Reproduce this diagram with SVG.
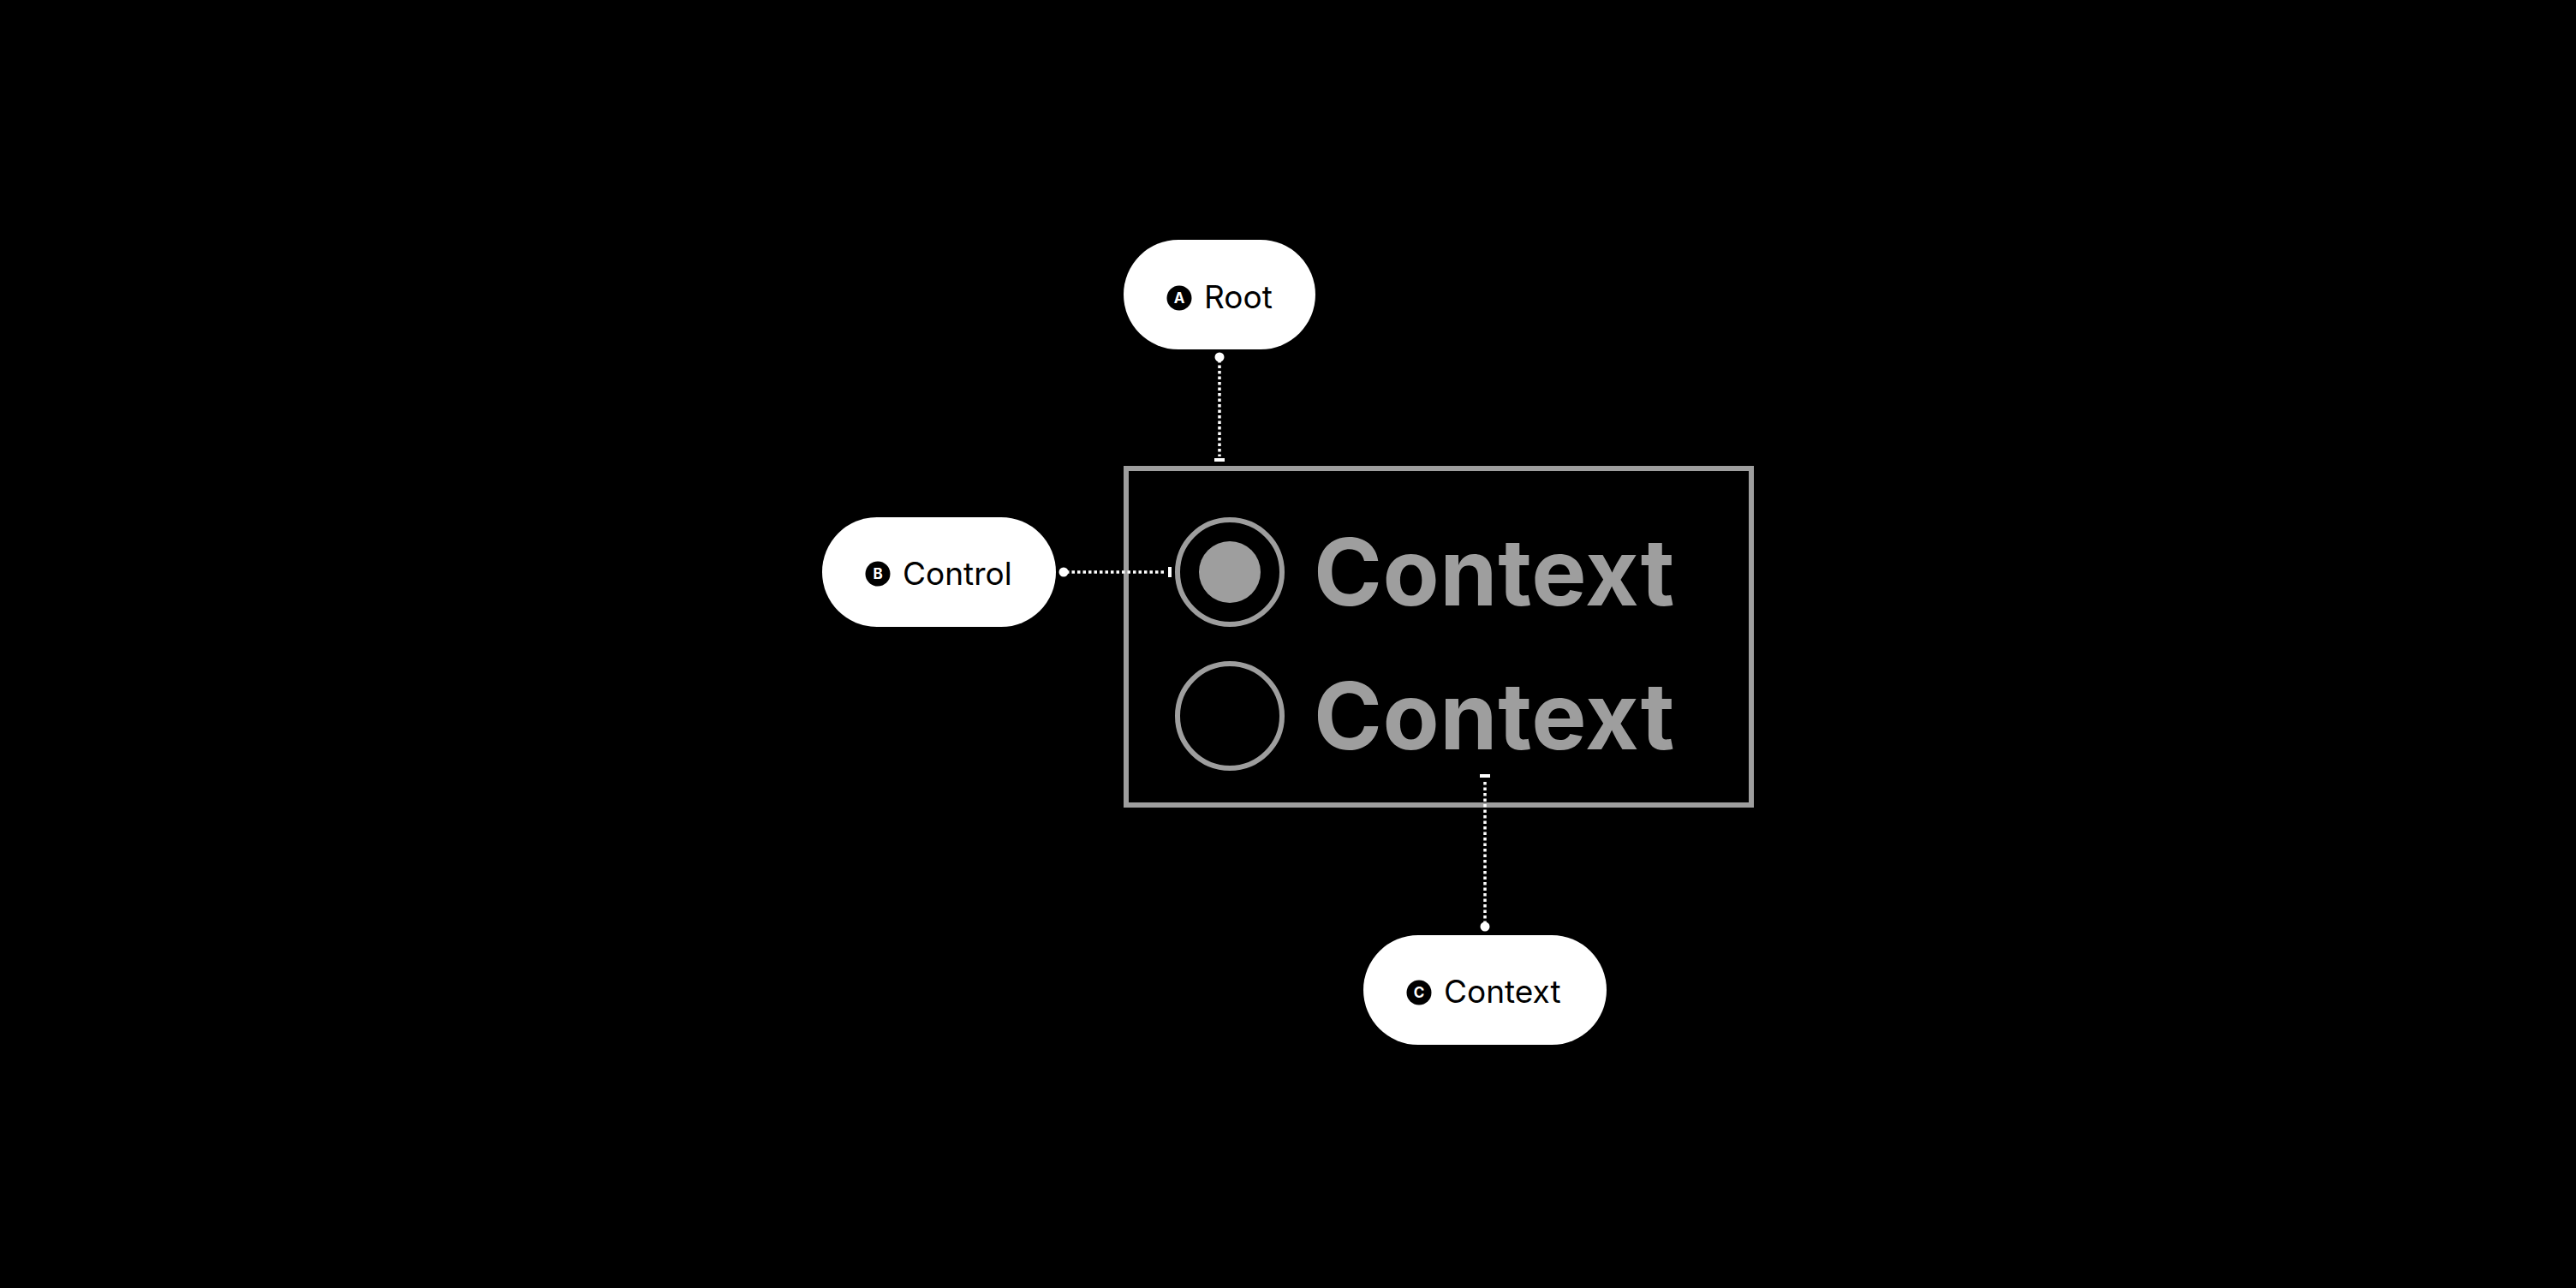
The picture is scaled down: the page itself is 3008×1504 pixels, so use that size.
<svg xmlns="http://www.w3.org/2000/svg" width="3008" height="1504" viewBox="0 0 3008 1504">
  <style>
    .pill { fill: #ffffff; }
    .label { font-family: Inter, "Noto Sans", "Liberation Sans", sans-serif; font-size: 37px; fill: #000000; }
    .badge { fill: #000000; }
    .badge-t { font-family: Inter, "Liberation Sans", sans-serif; font-size: 17px; font-weight: 700; fill: #ffffff; text-anchor: middle; }
    .frame { fill: none; stroke: #9e9e9e; stroke-width: 6; }
    .ring { fill: none; stroke: #9e9e9e; stroke-width: 6; }
    .big { font-family: Inter, "Liberation Sans", sans-serif; font-size: 108px; font-weight: 700; letter-spacing: 0.6px; fill: #9e9e9e; }
    .wire { stroke: #ffffff; stroke-width: 3.5; stroke-dasharray: 3.5 3; fill: none; }
    .end { fill: #ffffff; }
  </style>
  <rect x="0" y="0" width="3008" height="1504" fill="#000000"/>

  <g id="component">
    <rect class="frame" x="1315" y="547" width="730" height="393"/>
    <circle class="ring" cx="1436" cy="668" r="61"/>
    <circle cx="1436" cy="668" r="36" fill="#9e9e9e"/>
    <text class="big" x="1534" y="707">Context</text>
    <circle class="ring" cx="1436" cy="836" r="61"/>
    <text class="big" x="1534" y="875">Context</text>
  </g>

  <g id="connectors">
    <line class="wire" x1="1424" y1="420" x2="1424" y2="533"/>
    <circle class="end" cx="1424" cy="417" r="5.5"/>
    <rect class="end" x="1418" y="535" width="12" height="4"/>

    <line class="wire" x1="1245" y1="668" x2="1361" y2="668"/>
    <circle class="end" cx="1242" cy="668" r="5.5"/>
    <rect class="end" x="1364" y="662" width="4" height="12"/>

    <line class="wire" x1="1734" y1="1079" x2="1734" y2="910"/>
    <circle class="end" cx="1734" cy="1082" r="5.5"/>
    <rect class="end" x="1728" y="904" width="12" height="4"/>
  </g>

  <g id="root">
    <rect class="pill" x="1312" y="280" width="224" height="128" rx="64"/>
    <circle class="badge" cx="1377" cy="348" r="14.5"/>
    <text class="badge-t" x="1377" y="354">A</text>
    <text class="label" x="1406" y="360">Root</text>
  </g>

  <g id="control">
    <rect class="pill" x="960" y="604" width="273" height="128" rx="64"/>
    <circle class="badge" cx="1025" cy="670" r="14.5"/>
    <text class="badge-t" x="1025" y="676">B</text>
    <text class="label" x="1054" y="683">Control</text>
  </g>

  <g id="context">
    <rect class="pill" x="1592" y="1092" width="284" height="128" rx="64"/>
    <circle class="badge" cx="1657" cy="1159" r="14.5"/>
    <text class="badge-t" x="1657" y="1165">C</text>
    <text class="label" x="1686" y="1171">Context</text>
  </g>
</svg>
